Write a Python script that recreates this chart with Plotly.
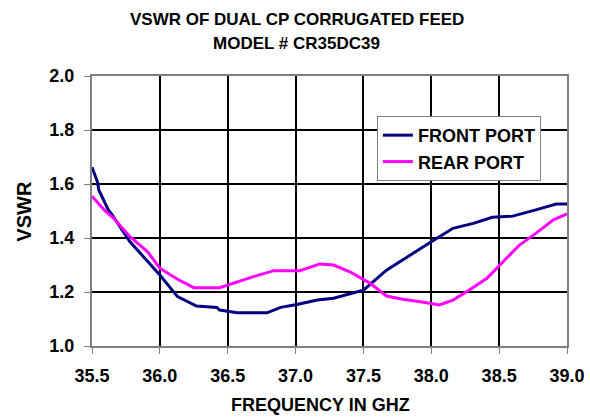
import plotly.graph_objects as go

front_freq = [35.5, 35.54, 35.55, 35.62, 35.65, 35.78, 36.0, 36.13, 36.27, 36.42, 36.44, 36.57, 36.79, 36.89,
              37.01, 37.16, 37.28, 37.5, 37.67, 37.89, 38.0, 38.16, 38.31, 38.45, 38.6, 38.77, 38.92, 39.0]
front_vswr = [1.662, 1.608, 1.578, 1.504, 1.485, 1.386, 1.263, 1.183, 1.148, 1.143, 1.133, 1.123, 1.123, 1.143,
              1.154, 1.17, 1.177, 1.207, 1.281, 1.349, 1.386, 1.436, 1.454, 1.477, 1.481, 1.504, 1.526, 1.526]

rear_freq = [35.5, 35.59, 35.66, 35.78, 35.91, 36.0, 36.13, 36.25, 36.44, 36.57, 36.69, 36.84, 37.03,
             37.18, 37.28, 37.4, 37.55, 37.67, 37.79, 37.92, 38.06, 38.16, 38.28, 38.41, 38.53, 38.65,
             38.77, 38.9, 39.0]
rear_vswr = [1.555, 1.504, 1.473, 1.405, 1.349, 1.288, 1.247, 1.216, 1.216, 1.238, 1.257, 1.279, 1.279,
             1.304, 1.3, 1.275, 1.232, 1.185, 1.173, 1.164, 1.152, 1.17, 1.207, 1.251, 1.312, 1.374,
             1.417, 1.467, 1.489]

x_ticks = [35.5, 36.0, 36.5, 37.0, 37.5, 38.0, 38.5, 39.0]
y_ticks = [1.0, 1.2, 1.4, 1.6, 1.8, 2.0]

title_lines = ["VSWR OF DUAL CP CORRUGATED FEED", "MODEL # CR35DC39"]
x_title = "FREQUENCY IN GHZ"
y_title = "VSWR"

FONT = "Liberation Sans, Arial, sans-serif"

fig = go.Figure()
fig.add_trace(go.Scatter(x=front_freq, y=front_vswr, mode="lines", name="FRONT PORT",
                         line=dict(color="#000080", width=3)))
fig.add_trace(go.Scatter(x=rear_freq, y=rear_vswr, mode="lines", name="REAR PORT",
                         line=dict(color="#FF00FF", width=3)))

axis_common = dict(showgrid=True, gridcolor="black", gridwidth=2,
                   showline=True, linecolor="#808080", linewidth=2, mirror=True,
                   ticks="outside", tickcolor="#808080", ticklen=6, tickwidth=1,
                   zeroline=False, automargin=False,
                   tickfont=dict(family=FONT, size=18, color="black", weight="bold"))

fig.update_layout(
    width=590, height=418, autosize=False,
    margin=dict(l=92, r=23, t=76, b=72, autoexpand=False),
    paper_bgcolor="white", plot_bgcolor="white",
    font=dict(family=FONT, color="black"),
    xaxis=dict(range=[35.5, 39.0], tickvals=x_ticks, ticktext=[f"{v:.1f}" for v in x_ticks],
               ticklabelstandoff=6, **axis_common),
    yaxis=dict(range=[1.0, 2.0], tickvals=y_ticks, ticktext=[f"{v:.1f}" for v in y_ticks],
               ticklabelstandoff=6, **axis_common),
    legend=dict(x=0.5998, y=0.852, xanchor="left", yanchor="top",
                bgcolor="white", bordercolor="#808080", borderwidth=1,
                font=dict(family=FONT, size=18, color="black", weight="bold"),
                itemwidth=30, tracegroupgap=0),
    showlegend=True,
)

tfont = dict(family=FONT, size=17, color="black", weight="bold")
fig.add_annotation(text=title_lines[0], xref="paper", yref="paper", x=0.4307, y=1.211,
                   xanchor="center", yanchor="middle", showarrow=False, font=tfont)
fig.add_annotation(text=title_lines[1], xref="paper", yref="paper", x=0.4307, y=1.119,
                   xanchor="center", yanchor="middle", showarrow=False, font=tfont)
fig.add_annotation(text=x_title, xref="paper", yref="paper", x=0.482, y=-0.2185,
                   xanchor="center", yanchor="middle", showarrow=False,
                   font=dict(family=FONT, size=18, color="black", weight="bold"))
fig.add_annotation(text=y_title, xref="paper", yref="paper", x=-0.145, y=0.498,
                   xanchor="center", yanchor="middle", showarrow=False, textangle=-90,
                   font=dict(family=FONT, size=20, color="black", weight="bold"))

fig.write_html("out.html", config={"displayModeBar": False},
               post_script="document.body.style.margin='0px';")
